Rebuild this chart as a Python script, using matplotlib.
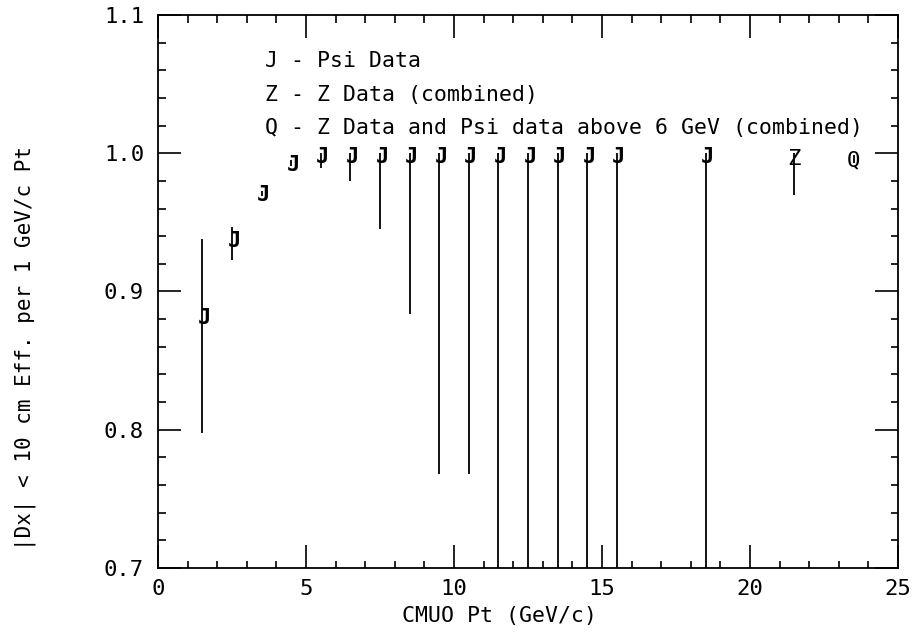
import matplotlib
matplotlib.use("Agg")
import matplotlib.pyplot as plt
from matplotlib.ticker import MultipleLocator, FormatStrFormatter

plt.rcParams['font.family'] = ['DejaVu Sans Mono', 'DejaVu Sans']

# J/Psi points (value, lower end, upper end of the error bar)
x_j = [1.5, 2.5, 3.5, 4.5, 5.5, 6.5, 7.5, 8.5, 9.5, 10.5, 11.5, 12.5, 13.5, 14.5, 15.5, 18.5]
y_j = [0.882, 0.938, 0.971, 0.993, 0.999, 0.999, 0.999, 0.999, 0.999, 0.999,
       0.999, 0.999, 0.999, 0.999, 0.999, 0.999]
lo_j = [0.798, 0.923, 0.969, 0.991, 0.989, 0.980, 0.945, 0.884, 0.768, 0.768,
        0.60, 0.60, 0.60, 0.60, 0.60, 0.60]
hi_j = [0.938, 0.947, 0.973, 0.995, 1.0, 1.0, 1.0, 1.0, 1.0, 1.0,
        1.0, 1.0, 1.0, 1.0, 1.0, 1.0]

# Z data (combined)
x_z = [21.5]
y_z = [0.997]
lo_z = [0.970]
hi_z = [1.0]

# Z + Psi above 6 GeV (combined)
x_q = [23.5]
y_q = [0.996]
lo_q = [0.993]
hi_q = [0.999]

notes = ["J - Psi Data",
         "Z - Z Data (combined)",
         "Q - Z Data and Psi data above 6 GeV (combined)"]
note_y = [1.0685, 1.0433, 1.0194]

fig = plt.figure(figsize=(9.17, 6.32), dpi=100)
ax = fig.add_axes([158 / 917, 1 - 568 / 632, 740 / 917, 553 / 632])

for xs, ys, lo, hi, letter, dx in [(x_j, y_j, lo_j, hi_j, 'J', 1.5),
                                   (x_z, y_z, lo_z, hi_z, 'Z', 0),
                                   (x_q, y_q, lo_q, hi_q, 'Q', 0)]:
    err = [[y - l for y, l in zip(ys, lo)], [h - y for y, h in zip(ys, hi)]]
    ax.errorbar(xs, ys, yerr=err, fmt='none', ecolor='black', elinewidth=1.3, capsize=0)
    for xx, yy in zip(xs, ys):
        ax.annotate(letter, (xx, yy), xytext=(dx, 0), textcoords='offset points',
                    ha='center', va='center_baseline', fontsize=16,
                    fontweight='bold' if letter == 'J' else 'normal')

for t, yy in zip(notes, note_y):
    ax.text(3.6, yy, t, ha='left', va='center_baseline', fontsize=15.5)

ax.set_xlim(0, 25)
ax.set_ylim(0.7, 1.1)
ax.xaxis.set_major_locator(MultipleLocator(5))
ax.xaxis.set_minor_locator(MultipleLocator(1))
ax.yaxis.set_major_locator(MultipleLocator(0.1))
ax.yaxis.set_minor_locator(MultipleLocator(0.02))
ax.yaxis.set_major_formatter(FormatStrFormatter('%.1f'))

ax.tick_params(which='both', direction='in', top=True, right=True, width=1.2)
ax.tick_params(which='major', length=16.5, labelsize=16)
ax.tick_params(which='minor', length=5.4)
ax.tick_params(axis='x', pad=8)
ax.tick_params(axis='y', pad=10)
for s in ax.spines.values():
    s.set_linewidth(1.3)

fig.text(500 / 917, 1 - 616 / 632, "CMUO Pt (GeV/c)", ha='center', va='center', fontsize=15.5)
fig.text(25 / 917, 1 - 348 / 632, "|Dx| < 10 cm Eff. per 1 GeV/c Pt",
         ha='center', va='center', rotation=90, fontsize=15)

fig.savefig("out.png", dpi=100)
